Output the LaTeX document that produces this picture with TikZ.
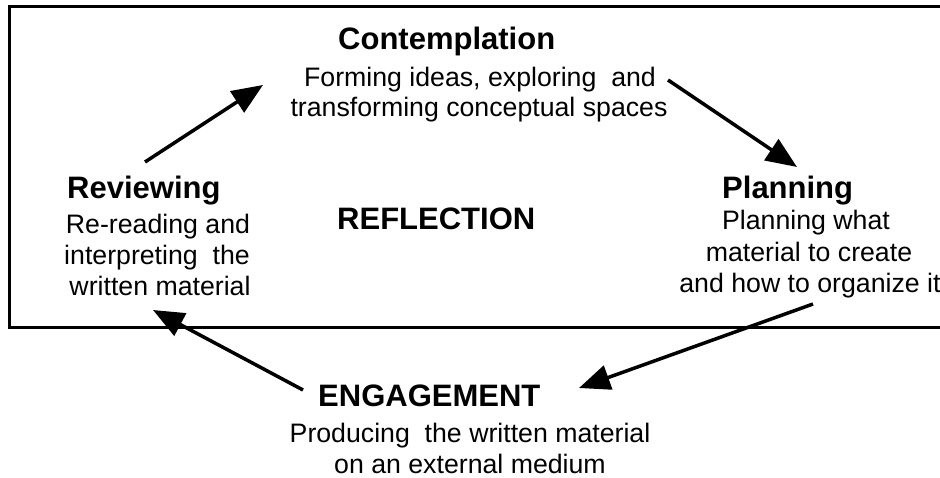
\documentclass[tikz,border=0pt]{standalone}
\usepackage{fontspec}
\setmainfont{Liberation Sans}
\usetikzlibrary{arrows.meta}
\begin{document}
\begin{tikzpicture}[x=1pt,y=-1pt,
  head/.style={font=\fontsize{31}{36}\selectfont\bfseries, inner sep=0pt, anchor=base west},
  desc/.style={font=\fontsize{26.7}{30}\selectfont, inner sep=0pt, anchor=base},
  flow/.style={line width=3.5pt, -{Triangle[length=31pt,width=25pt]}},
  frame/.style={line width=3pt}]
\useasboundingbox[fill=white] (0,0) rectangle (940,478);
% reflection frame (open at the right)
\draw[frame] (960,7) -| (9,328) -- (960,328);
% Contemplation
\node[head] (contH) at (338,50) {Contemplation};
\node[desc] (contA) at (480,87) {Forming ideas, exploring\ \ and};
\node[desc] (contB) at (479,117) {transforming conceptual spaces};
% Reviewing
\node[head] (revH) at (67,199) {Reviewing};
\node[desc] (revA) at (158,234) {Re-reading and};
\node[desc] (revB) at (157,265) {interpreting\ \ the};
\node[desc] (revC) at (160,296) {written material};
% Planning
\node[head] (planH) at (722,199) {Planning};
\node[desc] (planA) at (806,230) {Planning what};
\node[desc] (planB) at (809,262) {material to create};
\node[desc] (planC) at (810,293) {and how to organize it};
% Reflection
\node[head] (refl) at (337,230) {REFLECTION};
% Engagement
\node[head] (engH) at (318,406) {ENGAGEMENT};
\node[desc] (engA) at (470,442) {Producing\ \ the written material};
\node[desc] (engB) at (470,473) {on an external medium};
% arrow end points
\coordinate (a1s) at (145,162);
\coordinate (a1e) at (263,85);
\coordinate (a2s) at (668,80);
\coordinate (a2e) at (797,167);
\coordinate (a3s) at (813,304);
\coordinate (a3e) at (579,388);
\coordinate (a4s) at (303,390);
\coordinate (a4e) at (153,310);
\draw[flow] (a1s) -- (a1e);
\draw[flow] (a2s) -- (a2e);
\draw[flow] (a3s) -- (a3e);
\draw[flow] (a4s) -- (a4e);
\end{tikzpicture}
\end{document}
